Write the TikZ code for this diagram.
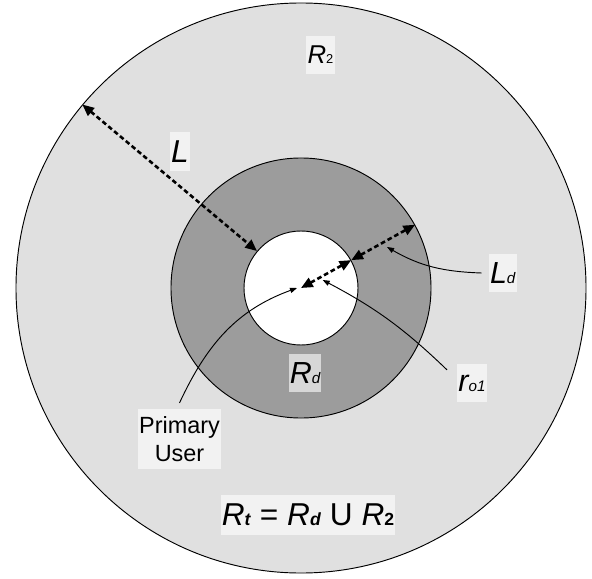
\documentclass[tikz,border=0pt]{standalone}
\usepackage{fontspec}
\setmainfont{Liberation Sans}
\usetikzlibrary{arrows.meta, positioning, calc}
\definecolor{c1}{HTML}{E0E0E0}
\definecolor{c2}{HTML}{9C9C9C}
\newcommand{\sub}[2][13]{{\fontsize{#1}{#1}\selectfont #2}}

\begin{document}
\begin{tikzpicture}[
    x=0.03cm, y=0.03cm,
    zone/.style={circle, draw=black, line width=0.8pt, inner sep=0pt},
    dimarr/.style={{Triangle[length=10pt, width=8.5pt]}-{Triangle[length=10pt, width=8.5pt]}, line width=2.2pt, dash pattern=on 4pt off 2.5pt},
    lead/.style={-{Triangle[length=6pt, width=4.5pt]}, line width=0.8pt},
    lbl/.style={fill=white, fill opacity=0.6, text opacity=1, inner xsep=1pt, inner ysep=0pt, minimum height=1.15cm, font=\fontsize{26}{30}\selectfont\itshape},
]
\useasboundingbox (0,0) rectangle (592,578);

% === ZONES (concentric circles) ===
\coordinate (ctr) at (301,290);
\foreach \nm/\col/\d in {outer/c1/17.1cm, mid/c2/7.8cm, inner/white/3.42cm}{
    \node[zone, fill=\col, minimum size=\d] (\nm) at (ctr) {};
}

% === LABELS ===
\node[lbl, font=\fontsize{22}{26}\selectfont\itshape] (r2) at (320.5,523) {R\sub[11]{\upshape 2}};
\node[lbl, font=\fontsize{27}{30}\selectfont\itshape] (l) at (180,426.5) {L};
\node[lbl] (ld) at (502.7,305) {L\sub{d}};
\node[lbl] (rd) at (305,205) {R\sub{d}};
\node[lbl] (ro) at (472,194.7) {r\sub{o1}};
\node[lbl, font=\fontsize{20}{24}\selectfont, align=center, minimum height=1.8cm] (pu) at (179.5,139) {Primary\\User};
\node[lbl, font=\fontsize{27}{30}\selectfont, minimum height=1.2cm] (eq) at (308,63)
    {\textit{R\sub[15]{\bfseries t}} = \textit{R\sub[15]{\bfseries d}} U \textit{R}\sub[15]{\bfseries 2}};

% === DIMENSION ARROWS ===
\draw[dimarr] (outer.140.5) -- (inner.140.5);
\draw[dimarr] (inner.29) -- (mid.29);
\draw[dimarr] (ctr) -- (inner.29);

% === LEADERS ===
\coordinate (putip) at (297,290);
\coordinate (ldtip) at (387,331);
\coordinate (rotip) at (322.7,298);
\draw[lead] ([yshift=5pt]pu.north) to[out=65, in=200] (putip);
\draw[lead] ([xshift=-6pt]ld.west) to[out=178, in=-30] (ldtip);
\draw[lead] ($(ro.north west)+(-10,-6)$) to[bend right=8] (rotip);

\end{tikzpicture}
\end{document}
